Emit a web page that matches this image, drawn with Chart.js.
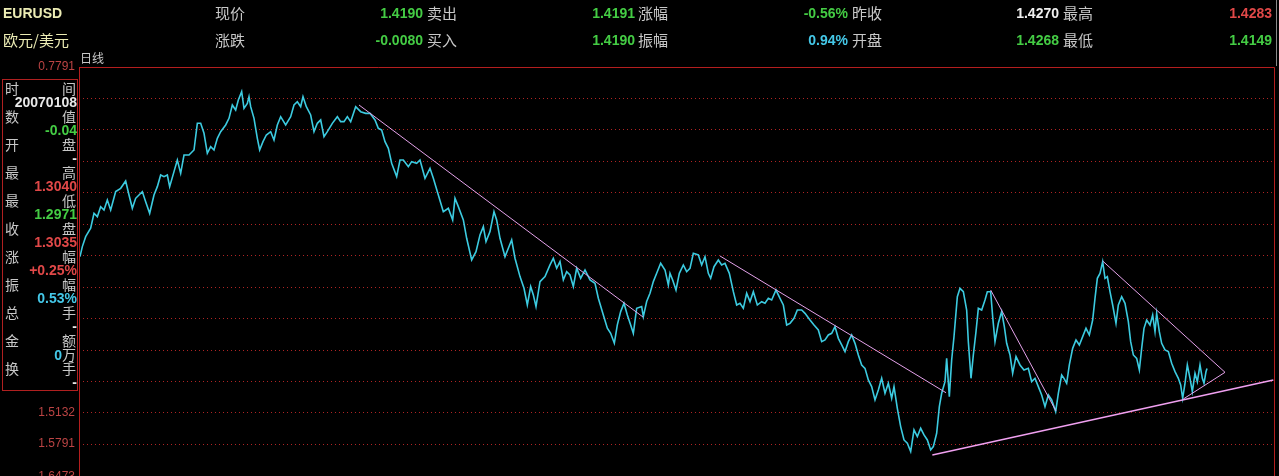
<!DOCTYPE html>
<html>
<head>
<meta charset="utf-8">
<script src="https://cdn.jsdelivr.net/npm/chart.js@4.4.1/dist/chart.umd.min.js"></script>
<style>
  html, body { margin: 0; padding: 0; background: #000; width: 1279px; height: 476px; overflow: hidden; }
  #wrap { position: relative; width: 1279px; height: 476px; overflow: hidden; }
  canvas { position: absolute; left: 0; top: 0; }
  .t { position: absolute; white-space: nowrap; line-height: 16px; height: 16px; }
  .cn { font-family: "Noto Sans CJK SC", sans-serif; font-size: 15px; color: #c8c8c8; }
  .num { font-family: "Liberation Sans", Arial, sans-serif; font-weight: bold; font-size: 14px; }
  .g { color: #44cc44; } .r { color: #e04848; } .c { color: #44c8e8; } .w { color: #f0f0f0; }
  #panel { position: absolute; left: 2px; top: 79px; width: 74px; height: 310px; border: 1px solid #b02020; background: #000; z-index: 2; }
  #panel .cn { font-size: 14px; }
</style>
</head>
<body>
<div id="wrap">
  <canvas id="kChart" width="1279" height="520"></canvas>

  <div class="t num" style="left:3px;top:5px;color:#ececb4;">EURUSD</div>
  <div class="t cn" style="left:3px;top:32px;color:#ececb4;">欧元/美元</div>

  <div class="t cn" style="left:215px;top:5px;">现价</div>
  <div class="t num g" style="right:856px;top:5px;">1.4190</div>
  <div class="t cn" style="left:215px;top:32px;">涨跌</div>
  <div class="t num g" style="right:856px;top:32px;">-0.0080</div>

  <div class="t cn" style="left:427px;top:5px;">卖出</div>
  <div class="t num g" style="right:644px;top:5px;">1.4191</div>
  <div class="t cn" style="left:427px;top:32px;">买入</div>
  <div class="t num g" style="right:644px;top:32px;">1.4190</div>

  <div class="t cn" style="left:638px;top:5px;">涨幅</div>
  <div class="t num g" style="right:431px;top:5px;">-0.56%</div>
  <div class="t cn" style="left:638px;top:32px;">振幅</div>
  <div class="t num c" style="right:431px;top:32px;">0.94%</div>

  <div class="t cn" style="left:852px;top:5px;">昨收</div>
  <div class="t num w" style="right:220px;top:5px;">1.4270</div>
  <div class="t cn" style="left:852px;top:32px;">开盘</div>
  <div class="t num g" style="right:220px;top:32px;">1.4268</div>

  <div class="t cn" style="left:1063px;top:5px;">最高</div>
  <div class="t num r" style="right:7px;top:5px;">1.4283</div>
  <div class="t cn" style="left:1063px;top:32px;">最低</div>
  <div class="t num g" style="right:7px;top:32px;">1.4149</div>

  <div style="position:absolute;left:1276px;top:0;width:1px;height:66px;background:#8a8a8a;"></div>
  <div class="t cn" style="left:80px;top:50px;font-size:12px;">日线</div>

  <div id="panel"></div>
</div>

<script>
// y-axis labels (reversed scale, top = low value)
const yTickValues = [0.7791, 0.8458, 0.9126, 0.9793, 1.0460, 1.1128, 1.1795, 1.2463, 1.3130, 1.3797, 1.4465, 1.5132, 1.5791, 1.6473];
const yTickLabels = ['0.7791', '', '', '', '', '', '', '', '', '', '', '1.5132', '1.5791', '1.6473'];

// daily closes, sampled by bar number
const barIndex = [
  0, 7, 17, 32, 42, 52, 62, 72, 82, 92, 107, 122, 137, 147, 157, 167, 177, 187, 197, 209,
  222, 232, 242, 252, 262, 269, 282, 292, 302, 312, 327, 342, 352, 362, 372, 382, 392, 402, 412, 422,
  437, 447, 457, 467, 475, 485, 492, 502, 507, 512, 522, 532, 539, 549, 559, 572, 582, 592, 602, 617,
  632, 642, 652, 662, 669, 679, 692, 702, 712, 722, 732, 742, 757, 772, 782, 792, 802, 812, 827, 842,
  857, 870, 885, 895, 905, 915, 925, 935, 950, 960, 970, 985, 995, 1010, 1020, 1035, 1050, 1060, 1075, 1090,
  1105, 1118, 1125, 1135, 1150, 1160, 1175, 1188, 1200, 1210, 1218, 1230, 1242, 1250, 1260, 1275, 1285, 1295, 1305, 1320,
  1332, 1342, 1352, 1360, 1368, 1380, 1395, 1410, 1420, 1430, 1440, 1450, 1460, 1470, 1480, 1490, 1502, 1515, 1530, 1545,
  1555, 1570, 1582, 1592, 1603, 1612, 1622, 1632, 1642, 1652, 1660, 1670, 1685, 1690, 1700, 1710, 1720, 1730, 1742, 1755,
  1765, 1770, 1778, 1788, 1798, 1810, 1820, 1830, 1840, 1855, 1865, 1875, 1885, 1892, 1902, 1915, 1925, 1935, 1948, 1960,
  1970, 1980, 1990, 2000, 2010, 2020, 2032, 2045, 2055, 2065, 2075, 2088, 2100, 2110, 2120, 2130, 2142, 2152, 2165, 2175,
  2190, 2202, 2215, 2225, 2235, 2245, 2255, 2265, 2275, 2285, 2295, 2305, 2315, 2325, 2335, 2345, 2355, 2365, 2375, 2385,
  2395, 2405, 2415, 2425, 2435, 2442, 2452, 2462, 2472, 2482, 2492, 2502, 2512, 2522, 2532, 2542, 2552, 2560, 2570, 2578,
  2585, 2595, 2600, 2608, 2615, 2622, 2632, 2640, 2650, 2660, 2665, 2673, 2680, 2688, 2695, 2705, 2715, 2722, 2732, 2738,
  2745, 2755, 2765, 2773, 2780, 2790, 2798, 2808, 2820, 2832, 2845, 2855, 2865, 2875, 2885, 2895, 2905, 2915, 2927, 2935,
  2945, 2952, 2960, 2968, 2978, 2988, 2998, 3008, 3018, 3028, 3038, 3045, 3052, 3060, 3068, 3075, 3082, 3090, 3098, 3108,
  3115, 3125, 3135, 3145, 3152, 3160, 3170, 3178, 3185, 3192, 3200, 3210, 3218, 3225, 3230, 3238, 3245, 3255, 3265, 3275,
  3285, 3295, 3302, 3308, 3315, 3322, 3330, 3337, 3345, 3352, 3360, 3367, 3372, 3378, 3381
];
const closeValues = [
  1.1814, 1.1602, 1.1390, 1.1213, 1.0895, 1.0966, 1.0754, 1.0824, 1.0612, 1.0824, 1.0435, 1.0365, 1.0209, 1.0506, 1.0789, 1.0577, 1.0506, 1.0435, 1.0648, 1.0895,
  1.0506, 1.0329, 1.0082, 1.0117, 1.0082, 1.0329, 1.0011, 0.9764, 1.0047, 0.9658, 0.9658, 0.9552, 0.8986, 0.8986, 0.9198, 0.9622, 0.9481, 0.9552, 0.9304, 0.9163,
  0.9021, 0.8880, 0.8597, 0.8703, 0.8491, 0.8314, 0.8668, 0.8562, 0.8420, 0.8633, 0.8880, 0.9304, 0.9552, 0.9375, 0.9234, 0.9163, 0.9340, 0.9021, 0.8845, 0.9021,
  0.8845, 0.8597, 0.8527, 0.8633, 0.8420, 0.8633, 0.8809, 0.9163, 0.8986, 0.8915, 0.9269, 0.9163, 0.8986, 0.8845, 0.8951, 0.8951, 0.8845, 0.8951, 0.8633, 0.8739,
  0.8774, 0.8774, 0.8915, 0.9092, 0.9127, 0.9375, 0.9516, 0.9834, 1.0117, 0.9764, 0.9764, 0.9905, 0.9799, 0.9834, 0.9764, 1.0153, 0.9940, 1.0153, 1.0506, 1.0860,
  1.0789, 1.1036, 1.0577, 1.0753, 1.1036, 1.1425, 1.1885, 1.1708, 1.1354, 1.1178, 1.1496, 1.1284, 1.0860, 1.1036, 1.1425, 1.1814, 1.1637, 1.1460, 1.1849, 1.2238,
  1.2486, 1.2839, 1.2450, 1.2627, 1.2874, 1.2344, 1.2238, 1.1991, 1.1849, 1.2061, 1.1920, 1.2309, 1.2132, 1.2203, 1.2450, 1.2061, 1.2274, 1.2097, 1.2309, 1.2380,
  1.2698, 1.3051, 1.3334, 1.3440, 1.3652, 1.3263, 1.2981, 1.2804, 1.3051, 1.3263, 1.3440, 1.2910, 1.2874, 1.3087, 1.2768, 1.2592, 1.2344, 1.2167, 1.1955, 1.2097,
  1.2415, 1.2169, 1.2310, 1.2523, 1.2169, 1.1992, 1.2134, 1.2063, 1.1745, 1.1780, 1.1992, 1.1816, 1.2169, 1.2275, 1.2028, 1.1886, 1.1992, 1.1957, 1.2169, 1.2558,
  1.2841, 1.2805, 1.2911, 1.2593, 1.2770, 1.2558, 1.2841, 1.2770, 1.2805, 1.2699, 1.2735, 1.2523, 1.2699, 1.2841, 1.3265, 1.3230, 1.3123, 1.2947, 1.2947, 1.3017,
  1.3159, 1.3265, 1.3371, 1.3618, 1.3583, 1.3477, 1.3442, 1.3300, 1.3548, 1.3689, 1.3830, 1.3618, 1.3477, 1.3654, 1.3901, 1.4113, 1.4184, 1.4431, 1.4573, 1.4856,
  1.4644, 1.4396, 1.4714, 1.4502, 1.4820, 1.4573, 1.5032, 1.5421, 1.5704, 1.5775, 1.5951, 1.5492, 1.5633, 1.5457, 1.5598, 1.5704, 1.5916, 1.5845, 1.5563, 1.4997,
  1.4714, 1.4467, 1.3972, 1.4785, 1.4007, 1.3512, 1.2664, 1.2487, 1.2558, 1.2947, 1.3618, 1.4396, 1.3901, 1.3406, 1.2911, 1.2947, 1.2734, 1.2558, 1.2558, 1.3088,
  1.3618, 1.3229, 1.2982, 1.3300, 1.3654, 1.3901, 1.4290, 1.3936, 1.4113, 1.4219, 1.4184, 1.4467, 1.4396, 1.4573, 1.4749, 1.4997, 1.4749, 1.4855, 1.5103, 1.4714,
  1.4325, 1.4396, 1.4502, 1.4113, 1.3760, 1.3583, 1.3689, 1.3512, 1.3335, 1.3477, 1.3159, 1.2699, 1.2275, 1.2169, 1.1921, 1.2275, 1.2240, 1.2558, 1.2841, 1.3229,
  1.2841, 1.2664, 1.2805, 1.3194, 1.3618, 1.3901, 1.3972, 1.4219, 1.3760, 1.3335, 1.3159, 1.3265, 1.3053, 1.3406, 1.3017, 1.3406, 1.3654, 1.3795, 1.3830, 1.4078,
  1.4255, 1.4396, 1.4537, 1.4820, 1.4502, 1.4113, 1.4396, 1.4679, 1.4290, 1.4467, 1.4113, 1.4396, 1.4502, 1.4255, 1.4190
];

// hand-drawn trend lines (bar number / price)
const trendA_x = [837, 1689];        const trendA_y = [0.8597, 1.3096];
const trendB_x = [1920, 2598];       const trendB_y = [1.1801, 1.4702];
const trendC_x = [2732, 2928];       const trendC_y = [1.2523, 1.5090];
const wedge_x  = [3068, 3435, 3310]; const wedge_y  = [1.1907, 1.4269, 1.4835];
const support_x = [2557, 3580];      const support_y = [1.6024, 1.4432];

// info panel (cursor bar)
const panelRows = [
  ['时', '间'], ['20070108', '#e8e8e8'], ['数', '值'], ['-0.04', '#44cc44'],
  ['开', '盘'], ['-', '#e8e8e8'], ['最', '高'], ['1.3040', '#e04848'],
  ['最', '低'], ['1.2971', '#44cc44'], ['收', '盘'], ['1.3035', '#e04848'],
  ['涨', '幅'], ['+0.25%', '#e04848'], ['振', '幅'], ['0.53%', '#44c8e8'],
  ['总', '手'], ['-', '#e8e8e8'], ['金', '额'], ['0|万', '#44c8e8'],
  ['换', '手'], ['-', '#e8e8e8']
];

const panel = document.getElementById('panel');
panelRows.forEach((row, k) => {
  const top = 14 * k;
  if (k % 2 === 0) {
    panel.insertAdjacentHTML('beforeend',
      `<div class="t cn" style="left:2px;top:${top}px;">${row[0]}</div>` +
      `<div class="t cn" style="right:1px;top:${top}px;">${row[1]}</div>`);
  } else if (row[0].includes('|')) {
    const [n, u] = row[0].split('|');
    panel.insertAdjacentHTML('beforeend',
      `<div class="t" style="right:1px;top:${top}px;"><span class="num" style="color:${row[1]}">${n}</span><span class="cn">${u}</span></div>`);
  } else {
    panel.insertAdjacentHTML('beforeend',
      `<div class="t num" style="right:0;top:${top}px;color:${row[1]};">${row[0]}</div>`);
  }
});

const toPoints = (xs, ys) => xs.map((x, i) => ({ x: x, y: ys[i] }));

const trendStyle = { borderColor: '#e4a2ea', borderWidth: 1, pointRadius: 0, fill: false, tension: 0, order: 0 };

const framePlugin = {
  id: 'frame',
  afterDraw(chart) {
    const { ctx, chartArea: a } = chart;
    ctx.save();
    ctx.strokeStyle = '#b41e1e';
    ctx.lineWidth = 1;
    ctx.beginPath();
    ctx.moveTo(a.left + 0.5, a.bottom);
    ctx.lineTo(a.left + 0.5, a.top + 0.5);
    ctx.lineTo(a.right - 0.5, a.top + 0.5);
    ctx.lineTo(a.right - 0.5, a.bottom);
    ctx.stroke();
    ctx.restore();
  }
};

new Chart(document.getElementById('kChart'), {
  type: 'line',
  data: {
    datasets: [
      Object.assign({ data: toPoints(trendA_x, trendA_y) }, trendStyle),
      Object.assign({ data: toPoints(trendB_x, trendB_y) }, trendStyle),
      Object.assign({ data: toPoints(trendC_x, trendC_y) }, trendStyle),
      Object.assign({ data: toPoints(wedge_x, wedge_y) }, trendStyle),
      Object.assign({ data: toPoints(support_x, support_y) }, trendStyle, { borderColor: '#f0a0f0', borderWidth: 1.5 }),
      {
        label: 'EURUSD',
        data: toPoints(barIndex, closeValues),
        borderColor: '#3ccbe0',
        borderWidth: 1.6,
        pointRadius: 0,
        tension: 0,
        order: 1
      }
    ]
  },
  options: {
    responsive: false,
    animation: false,
    devicePixelRatio: 1,
    layout: { padding: { top: 67, right: 4, bottom: 20, left: 0 } },
    plugins: { legend: { display: false }, tooltip: { enabled: false } },
    scales: {
      x: { type: 'linear', min: -3, max: 3585, display: false },
      y: {
        type: 'linear',
        reverse: true,
        min: 0.7791,
        max: 1.6978,
        afterBuildTicks: s => { s.ticks = yTickValues.map(v => ({ value: v })); },
        afterFit: s => { s.width = 79; },
        grid: { color: '#b02424', lineWidth: 1, drawTicks: false },
        border: { display: false, dash: [1, 3] },
        ticks: {
          autoSkip: false,
          color: '#bc4444',
          padding: 4,
          font: { family: 'Liberation Sans', size: 12 },
          callback: (v, i) => yTickLabels[i]
        }
      }
    }
  },
  plugins: [framePlugin]
});
</script>
</body>
</html>
